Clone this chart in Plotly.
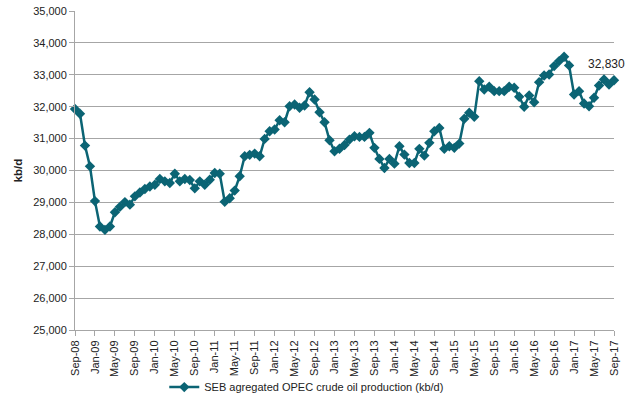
import plotly.graph_objects as go

months = ["Sep-08","Oct-08","Nov-08","Dec-08","Jan-09","Feb-09","Mar-09","Apr-09","May-09","Jun-09","Jul-09","Aug-09",
          "Sep-09","Oct-09","Nov-09","Dec-09","Jan-10","Feb-10","Mar-10","Apr-10","May-10","Jun-10","Jul-10","Aug-10",
          "Sep-10","Oct-10","Nov-10","Dec-10","Jan-11","Feb-11","Mar-11","Apr-11","May-11","Jun-11","Jul-11","Aug-11",
          "Sep-11","Oct-11","Nov-11","Dec-11","Jan-12","Feb-12","Mar-12","Apr-12","May-12","Jun-12","Jul-12","Aug-12",
          "Sep-12","Oct-12","Nov-12","Dec-12","Jan-13","Feb-13","Mar-13","Apr-13","May-13","Jun-13","Jul-13","Aug-13",
          "Sep-13","Oct-13","Nov-13","Dec-13","Jan-14","Feb-14","Mar-14","Apr-14","May-14","Jun-14","Jul-14","Aug-14",
          "Sep-14","Oct-14","Nov-14","Dec-14","Jan-15","Feb-15","Mar-15","Apr-15","May-15","Jun-15","Jul-15","Aug-15",
          "Sep-15","Oct-15","Nov-15","Dec-15","Jan-16","Feb-16","Mar-16","Apr-16","May-16","Jun-16","Jul-16","Aug-16",
          "Sep-16","Oct-16","Nov-16","Dec-16","Jan-17","Feb-17","Mar-17","Apr-17","May-17","Jun-17","Jul-17","Aug-17",
          "Sep-17"]

production = [31930, 31780, 30780, 30130, 29040, 28245, 28140, 28245, 28690, 28860, 29010, 28930,
              29190, 29310, 29420, 29500, 29555, 29735, 29660, 29607, 29900, 29660, 29735, 29700,
              29440, 29660, 29555, 29710, 29922, 29900, 29020, 29130, 29370, 29820, 30445, 30490,
              30530, 30445, 30990, 31230, 31283, 31576, 31513, 32015, 32069, 31965, 32037, 32455,
              32226, 31827, 31513, 30948, 30602, 30680, 30800, 30969, 31073, 31054, 31054, 31180,
              30710, 30363, 30080, 30363, 30215, 30760, 30498, 30237, 30237, 30678, 30467, 30866,
              31230, 31335, 30678, 30760, 30710, 30844, 31620, 31808, 31682, 32801, 32540, 32625,
              32487, 32487, 32487, 32625, 32593, 32311, 31997, 32352, 32141, 32770, 32980, 33011,
              33272, 33429, 33567, 33294, 32383, 32487, 32100, 32015, 32279, 32666, 32855, 32697,
              32830]

tick_labels = months[::4]
y_ticks = [25000, 26000, 27000, 28000, 29000, 30000, 31000, 32000, 33000, 34000, 35000]
last_label = "32,830"

color = "#0B6474"
idx = list(range(len(months)))

fig = go.Figure()
fig.add_trace(go.Scatter(
    x=idx, y=production, mode="lines+markers",
    name="SEB agregated OPEC crude oil production (kb/d)",
    line=dict(color=color, width=2.5),
    marker=dict(symbol="diamond", size=8, color=color),
    cliponaxis=False,
))

fig.add_annotation(x=idx[-1], y=production[-1], text=last_label, showarrow=False,
                   xanchor="center", yanchor="bottom", xshift=-8, yshift=7,
                   font=dict(size=12, color="#222222", family="Liberation Sans, Arial, sans-serif"))

fig.update_layout(
    width=626, height=407,
    margin=dict(l=75, r=12, t=11, b=77, autoexpand=False),
    paper_bgcolor="white", plot_bgcolor="white",
    font=dict(family="Liberation Sans, Arial, sans-serif", size=11, color="#222222"),
    showlegend=True,
    legend=dict(orientation="h", x=0.430, xanchor="center", y=-0.179, yanchor="middle",
                font=dict(size=11), itemwidth=30, bgcolor="rgba(0,0,0,0)"),
)
fig.update_xaxes(
    range=[0, len(months) - 1], automargin=False, ticklabeloverflow="allow",
    tickmode="array", tickvals=idx[::4], ticktext=tick_labels,
    tickangle=-90, ticks="outside", ticklen=5, tickcolor="#A6A6A6",
    showgrid=False, showline=True, linecolor="#A6A6A6", linewidth=1,
    zeroline=False,
)
fig.update_yaxes(
    range=[25000, 35000], tickvals=y_ticks, tickformat=",d", automargin=False,
    ticklabeloverflow="allow",
    ticks="outside", ticklen=5, tickcolor="#A6A6A6",
    showgrid=True, gridcolor="#A6A6A6", gridwidth=1,
    showline=True, linecolor="#A6A6A6", linewidth=1, zeroline=False,
    title=dict(text="<b>kb/d</b>", standoff=8, font=dict(size=11.5)),
)

fig.write_html("out.html",
               config={"displayModeBar": False, "staticPlot": True},
               post_script="document.body.style.margin='0';document.body.style.overflow='hidden';")
